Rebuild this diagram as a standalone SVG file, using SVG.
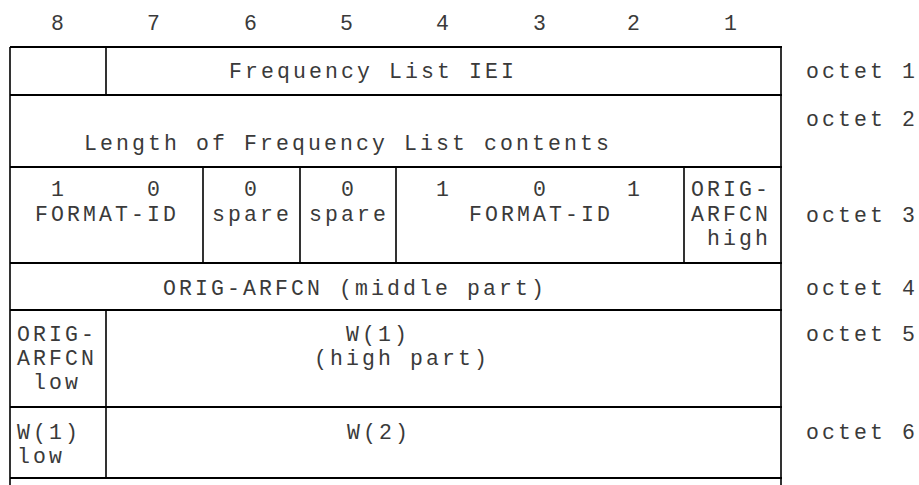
<svg xmlns="http://www.w3.org/2000/svg" width="919" height="485" viewBox="0 0 919 485">
<style>
text{font-family:"Liberation Mono","DejaVu Sans Mono",monospace;font-size:21.5px;letter-spacing:3.1px;fill:#3a3a3a}
.m{text-anchor:middle}
.h{stroke:#000;stroke-width:2.2;fill:none}
.v{stroke:#000;stroke-width:1.6;fill:none}
</style>
<rect width="919" height="485" fill="#fff"/>
<g id="bits">
<text class="m" x="59" y="30">8</text>
<text class="m" x="155" y="30">7</text>
<text class="m" x="252" y="30">6</text>
<text class="m" x="348" y="30">5</text>
<text class="m" x="444" y="30">4</text>
<text class="m" x="541" y="30">3</text>
<text class="m" x="635" y="30">2</text>
<text class="m" x="732" y="30">1</text>
</g>
<g id="grid">
<path class="h" d="M10 47H782M10 95H782M10 167H782M10 263H782M10 310H782M10 407H782M10 478H782"/>
<path class="v" d="M10 47V485M781 47V485M106 47V95M203 167V263M300 167V263M396 167V263M684 167V263M106 310V478"/>
</g>
<g id="iei"><text x="229" y="78">Frequency List IEI</text></g>
<g id="length"><text x="84" y="150">Length of Frequency List contents</text></g>
<g id="fmt1"><text class="m" x="59" y="196">1</text><text class="m" x="155" y="196">0</text><text class="m" x="107" y="221">FORMAT-ID</text></g>
<g id="spare6"><text class="m" x="252" y="196">0</text><text class="m" x="252" y="221">spare</text></g>
<g id="spare5"><text class="m" x="349" y="196">0</text><text class="m" x="349" y="221">spare</text></g>
<g id="fmt2"><text class="m" x="444" y="196">1</text><text class="m" x="541" y="196">0</text><text class="m" x="635" y="196">1</text><text class="m" x="541" y="221">FORMAT-ID</text></g>
<g id="orighigh"><text x="691" y="196">ORIG-</text><text x="691" y="221">ARFCN</text><text x="707" y="245">high</text></g>
<g id="origmid"><text x="163" y="295">ORIG-ARFCN (middle part)</text></g>
<g id="origlow"><text x="17" y="341">ORIG-</text><text x="17" y="365">ARFCN</text><text x="33" y="389">low</text></g>
<g id="w1high"><text x="346" y="341">W(1)</text><text x="314" y="365">(high part)</text></g>
<g id="w1low"><text x="17" y="439">W(1)</text><text x="17" y="463">low</text></g>
<g id="w2"><text x="347" y="439">W(2)</text></g>
<g id="octets">
<text x="806" y="78">octet 1</text>
<text x="806" y="126">octet 2</text>
<text x="806" y="222">octet 3</text>
<text x="806" y="295">octet 4</text>
<text x="806" y="341">octet 5</text>
<text x="806" y="439">octet 6</text>
</g>
</svg>
